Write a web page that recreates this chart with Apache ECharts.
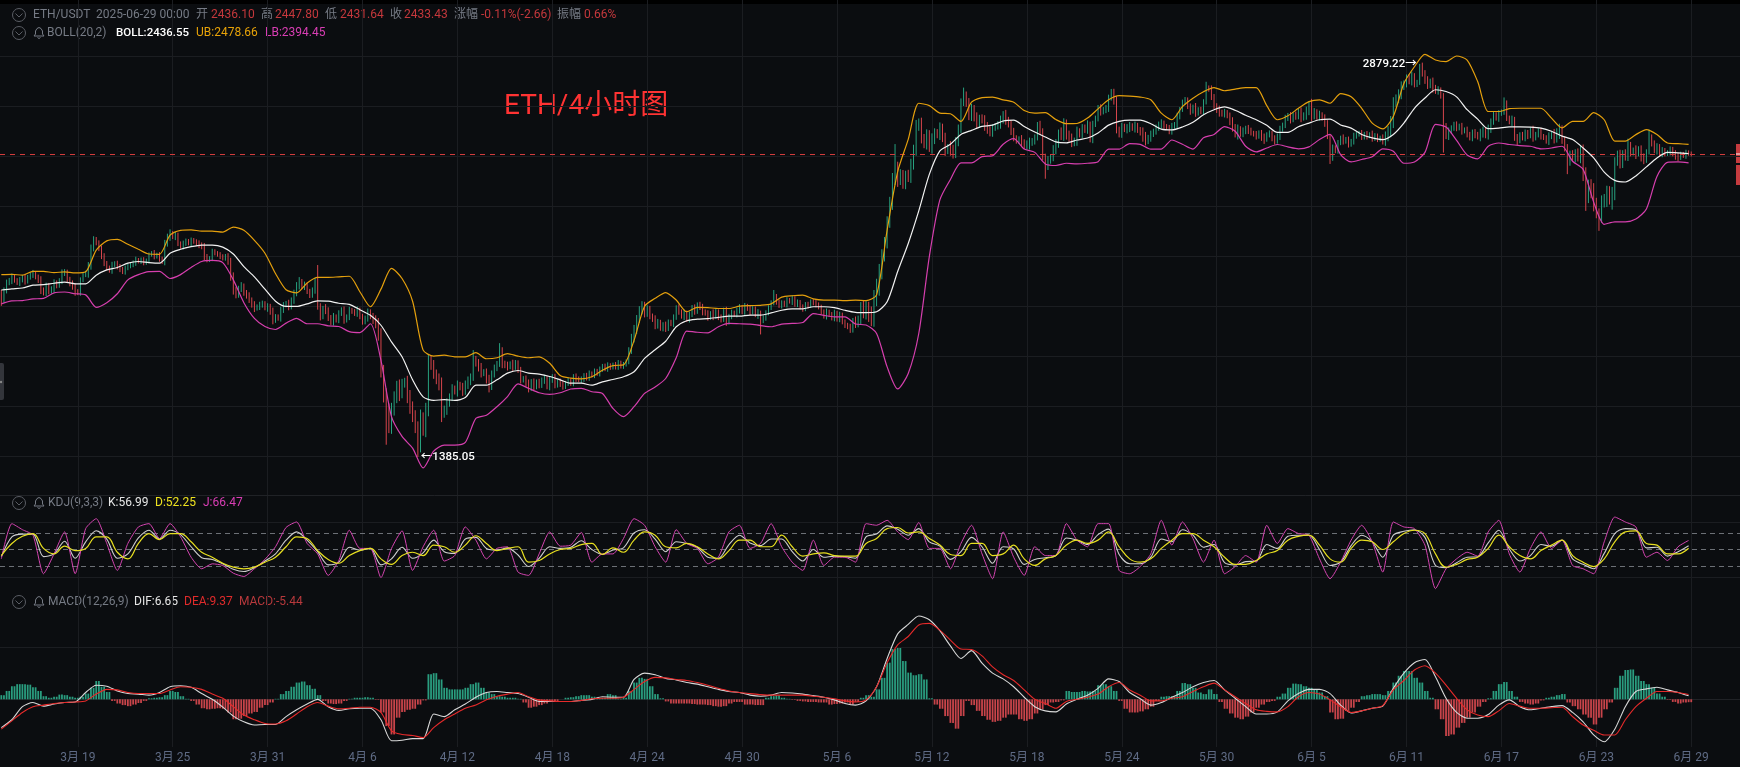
<!DOCTYPE html>
<html><head><meta charset="utf-8"><style>html,body{margin:0;padding:0;background:#0b0d10}#c{width:1740px;height:767px}</style>
<script src="https://cdn.jsdelivr.net/npm/echarts@6/dist/echarts.min.js"></script></head><body><div id="c"></div>
<script>
const tickDates=['3月 19','3月 25','3月 31','4月 6','4月 12','4月 18','4月 24','4月 30','5月 6','5月 12','5月 18','5月 24','5月 30','6月 5','6月 11','6月 17','6月 23','6月 29'];
const closes=[1855,1890,1915,1925,1935,1925,1915,1925,1935,1922,
1935,1945,1950,1935,1925,1890,1880,1905,1885,1895,
1915,1905,1925,1950,1955,1925,1915,1900,1885,1880,
1925,1945,1950,1975,2045,2075,2065,2040,2015,1985,
1970,1960,1980,1987,1973,1965,1955,1968,1977,1980,
1989,1999,1993,1999,1989,1996,2018,2025,2012,2018,
2002,1993,2061,2087,2100,2087,2093,2061,2049,2061,
2071,2061,2074,2068,2061,2055,2049,2012,1999,2005,
2030,2025,2018,2012,2005,2012,1993,1937,1890,1872,
1896,1905,1878,1872,1855,1838,1827,1832,1838,1844,
1827,1832,1815,1787,1798,1793,1821,1838,1844,1832,
1855,1878,1908,1920,1902,1908,1884,1872,1890,1920,
1832,1798,1827,1821,1793,1782,1798,1787,1810,1821,
1787,1798,1821,1815,1810,1821,1798,1782,1793,1815,
1798,1787,1776,1738,1628,1549,1512,1466,1512,1549,
1578,1559,1588,1593,1549,1521,1493,1466,1421,1489,
1457,1512,1658,1643,1618,1598,1588,1502,1512,1531,
1549,1574,1564,1583,1578,1564,1588,1593,1608,1663,
1648,1638,1618,1623,1598,1578,1618,1633,1648,1685,
1648,1643,1638,1648,1638,1650,1628,1598,1603,1588,
1574,1593,1578,1593,1583,1598,1603,1578,1598,1608,
1583,1593,1588,1578,1590,1596,1588,1608,1603,1598,
1600,1612,1605,1618,1612,1625,1618,1630,1640,1633,
1642,1636,1645,1638,1650,1640,1645,1655,1690,1730,
1755,1790,1822,1835,1810,1825,1800,1790,1770,1780,
1760,1770,1760,1780,1775,1795,1830,1815,1800,1810,
1790,1805,1830,1815,1840,1830,1815,1810,1795,1810,
1800,1815,1795,1790,1820,1780,1800,1812,1805,1820,
1830,1815,1835,1825,1815,1825,1805,1810,1785,1795,
1810,1830,1845,1865,1850,1835,1845,1840,1855,1850,
1860,1840,1848,1830,1825,1840,1835,1850,1845,1840,
1830,1815,1800,1815,1805,1795,1810,1790,1805,1780,
1770,1765,1755,1785,1775,1790,1830,1815,1825,1805,
1795,1860,1904,1950,2017,2062,2148,2222,2322,2370,
2320,2345,2300,2340,2335,2385,2457,2564,2579,2509,
2479,2525,2464,2502,2532,2525,2556,2509,2450,2464,
2457,2434,2494,2548,2684,2717,2676,2619,2643,2611,
2572,2603,2595,2564,2548,2532,2556,2564,2572,2595,
2619,2595,2572,2540,2509,2494,2502,2486,2472,2479,
2486,2494,2509,2572,2540,2420,2383,2405,2420,2457,
2479,2532,2525,2572,2525,2509,2486,2494,2540,2525,
2556,2548,2572,2502,2572,2603,2651,2635,2643,2651,
2701,2725,2693,2548,2525,2564,2548,2556,2564,2556,
2564,2548,2532,2517,2494,2509,2525,2540,2556,2572,
2579,2564,2556,2540,2564,2572,2611,2643,2684,2693,
2659,2635,2659,2627,2644,2636,2680,2752,2748,2710,
2660,2644,2630,2624,2630,2614,2585,2560,2525,2548,
2530,2540,2552,2545,2532,2525,2517,2532,2509,2501,
2525,2530,2505,2494,2517,2548,2571,2603,2614,2595,
2619,2611,2635,2603,2619,2635,2668,2619,2630,2611,
2619,2603,2579,2517,2420,2462,2450,2485,2509,2494,
2501,2478,2494,2517,2525,2532,2513,2525,2517,2525,
2509,2517,2501,2509,2494,2517,2540,2585,2676,2702,
2720,2763,2772,2807,2790,2814,2772,2781,2868,2830,
2790,2772,2781,2755,2737,2744,2711,2565,2517,2540,
2556,2571,2556,2564,2540,2548,2525,2509,2532,2525,
2513,2532,2540,2525,2548,2585,2619,2603,2624,2635,
2676,2603,2585,2595,2509,2494,2525,2509,2532,2517,
2548,2509,2525,2540,2517,2509,2494,2517,2525,2509,
2532,2548,2501,2462,2396,2436,2417,2436,2425,2442,
2351,2250,2293,2272,2222,2182,2168,2228,2236,2265,
2244,2258,2396,2436,2388,2436,2425,2472,2442,2450,
2436,2458,2417,2409,2442,2509,2485,2450,2466,2436,
2450,2436,2442,2455,2436,2425,2417,2436,2425,2442,2436.1,2433.43];
const wicks=[15,9,12,8,14,9,7,11,8,13,9,8,12,7,10,14,9,11,10,8,13,9,7,14,10,8,12,9,15,8,10,7,9,16,12,14,
11,8,13,9,10,8,12,7,9,11,8,10,7,9,8,12,7,9,10,8,9,7,11,8,10,9,14,12,16,9,13,10,8,11,9,7,10,8,9,12,
10,14,9,8,11,9,7,10,8,9,12,14,16,11,9,13,8,12,10,9,13,8,11,9,7,12,10,14,9,8,11,10,8,12,9,13,10,16,
9,12,8,10,9,13,10,12,8,14,9,11,13,8,10,9,12,8,11,7,9,12,8,10,9,11,8,13,16,18,22,16,25,18,20,16,18,
22,14,12,18,20,15,18,14,24,16,20,18,14,16,12,20,18,12,14,10,12,8,14,10,12,9,16,10,12,9,14,12,8,10,
16,9,12,8,10,14,9,11,7,12,9,8,10,7,9,12,8,10,7,9,8,11,7,10,8,9,7,10,8,6,9,7,8,10,6,9,
7,8,9,6,8,7,9,7,8,10,7,6,8,9,7,8,6,9,12,16,14,12,16,14,12,10,9,13,11,8,10,12,9,8,11,7,
10,8,13,9,11,8,10,7,9,12,8,10,7,13,9,8,11,9,12,8,10,7,9,11,8,10,7,12,9,8,14,9,8,10,7,9,
8,11,7,9,8,10,7,12,8,9,7,10,8,9,7,8,10,7,9,8,11,7,9,12,8,10,7,9,8,10,9,14,12,18,22,26,
24,28,30,26,34,22,24,20,26,28,24,30,22,18,20,24,28,20,30,22,26,18,24,20,28,22,18,26,20,24,16,30,
20,18,24,16,22,18,26,30,24,20,16,18,22,20,16,18,14,16,20,18,24,14,18,16,12,14,20,16,18,24,14,16,
12,18,14,16,20,14,18,24,16,26,30,24,18,20,16,22,14,18,16,20,14,18,12,16,20,14,16,18,12,24,18,14,
16,12,18,20,14,22,16,12,26,20,14,18,12,16,14,18,12,10,14,16,12,18,14,10,14,12,16,10,18,12,14,16,
10,14,18,12,16,20,14,18,12,16,22,14,24,16,18,14,18,12,10,16,12,14,20,10,14,12,16,12,18,10,16,14,
18,12,16,14,20,12,24,18,30,22,16,20,12,18,14,10,16,12,14,10,16,12,14,10,16,12,10,14,12,16,10,18,
14,12,10,16,22,24,28,30,18,26,24,20,16,18,24,16,14,12,18,16,24,20,26,14,18,12,16,14,18,12,14,16,
12,16,10,14,12,16,18,12,20,22,18,24,16,14,12,18,10,16,14,12,20,14,18,10,12,16,14,10,18,12,14,16,
10,12,18,14,26,22,28,20,16,18,14,16,20,24,32,36,24,28,30,34,22,18,26,24,30,28,32,24,14,18,16,20,
22,18,14,24,12,16,20,14,10,16,12,18,14,16,12,10,14,12,16,14,9,8,12,9,10,8];
const highOverride={120:1980,179:1690,189:1712,293:1890,339:2480,365:2755,421:2748,457:2785,538:2879.22,570:2705,617:2505,625:2548};
const lowOverride={0:1835,146:1417,158:1385.05,167:1478,288:1740,396:2325,504:2390,547:2441,594:2345,601:2190,606:2110,611:2195};
const bollMid=[1890,1894,1897,1907,1909,1914,1918,1912,1912,1943,1962,1971,1987,1993,1989,1987,2024,2039,2049,2055,2055,2047,2021,1974,1937,1893,1851,1833,1833,1842,1852,1851,1844,1840,1822,1803,1770,1716,1669,1599,1549,1539,1541,1539,1547,1583,1583,1599,1619,1627,1619,1616,1609,1599,1589,1589,
1583,1593,1600,1608,1623,1664,1691,1718,1765,1785,1790,1792,1796,1800,1800,1804,1804,1811,1820,1825,1825,1832,1832,1829,1820,1813,1812,1815,1849,1956,2061,2190,2344,2449,2479,2525,2544,2563,2569,2589,2593,2563,2536,2513,2490,2486,2499,2508,2532,2569,2587,2593,2593,2576,2550,2546,2560,2583,
2619,2644,2658,2641,2617,2595,2568,2535,2535,2561,2579,2595,2598,2570,2555,2525,2509,2501,2525,2579,2651,2702,2744,2735,2708,2644,2598,2552,2555,2561,2561,2560,2555,2540,2517,2501,2462,2417,2354,2318,2311,2337,2377,2417,2442,2440,2436.55];
const bollUp=[1945,1946,1943,1957,1957,1952,1955,1951,1955,2036,2071,2077,2058,2039,2021,2020,2093,2112,2114,2109,2109,2105,2125,2112,2073,2024,1949,1891,1880,1915,1935,1935,1937,1939,1884,1832,1893,1968,1931,1851,1690,1671,1674,1669,1669,1682,1663,1666,1679,1671,1666,1669,1649,1612,1604,1602,
1608,1628,1642,1644,1721,1834,1861,1881,1855,1815,1830,1829,1826,1826,1834,1836,1837,1842,1865,1870,1872,1859,1855,1855,1853,1855,1853,1873,2113,2356,2502,2676,2664,2627,2624,2587,2681,2704,2707,2693,2681,2640,2627,2630,2596,2576,2577,2603,2648,2693,2714,2712,2707,2693,2627,2595,2659,2701,
2734,2755,2739,2747,2755,2755,2664,2595,2614,2651,2684,2693,2676,2724,2708,2651,2579,2551,2611,2776,2864,2931,2900,2891,2922,2900,2786,2635,2635,2649,2651,2651,2651,2603,2556,2587,2587,2630,2595,2494,2494,2524,2548,2525,2485,2482,2478.66];
const bollLow=[1842,1852,1853,1859,1861,1880,1883,1877,1873,1830,1846,1877,1926,1945,1956,1957,1931,1945,1971,1993,1997,1989,1926,1846,1793,1766,1756,1777,1793,1775,1775,1768,1766,1749,1746,1775,1658,1493,1439,1408,1357,1400,1416,1416,1423,1488,1497,1521,1550,1587,1574,1561,1556,1561,1572,1574,
1564,1559,1516,1493,1521,1559,1578,1603,1666,1751,1747,1745,1765,1776,1775,1774,1769,1765,1774,1776,1779,1809,1803,1798,1798,1774,1771,1743,1638,1572,1618,1743,2011,2235,2322,2395,2395,2423,2427,2479,2505,2457,2442,2390,2383,2393,2390,2393,2400,2457,2457,2482,2479,2457,2457,2499,2479,2457,
2509,2525,2562,2540,2470,2444,2462,2478,2467,2458,2467,2501,2525,2432,2399,2410,2422,2458,2447,2393,2399,2442,2573,2560,2497,2430,2413,2470,2485,2478,2473,2470,2458,2462,2470,2402,2366,2226,2136,2146,2146,2157,2198,2335,2397,2399,2394.45];
const kValues=[37,73,78,78,37,42,65,34,64,84,69,34,42,71,85,69,85,77,55,35,32,24,14,10,17,29,42,67,82,67,46,22,27,54,49,52,22,33,54,34,44,67,46,43,69,72,52,49,53,40,19,34,55,52,54,66,50,41,49,53,80,86,69,46,64,61,54,36,34,59,76,62,57,69,69,46,29,50,36,38,37,34,73,
78,93,87,76,88,64,56,32,46,72,55,25,55,51,23,32,35,39,71,67,59,77,87,41,24,24,36,69,64,86,76,54,59,26,22,28,29,59,52,74,76,76,50,21,27,57,76,64,36,76,83,86,72,21,17,26,36,37,62,85,51,29,39,59,56,67,33,23,15,43,79,88,86,53,54,38,46,56.99];
const dValues=[39,61,74,79,52,42,56,48,52,73,73,45,33,61,79,68,79,79,64,45,36,25,18,15,18,27,36,55,73,70,48,32,25,39,48,52,33,23,39,45,39,58,55,45,58,75,61,48,52,55,27,30,42,50,52,59,61,41,53,45,67,82,76,55,53,61,55,42,33,48,67,67,55,55,76,55,38,42,44,39,38,38,61,
70,88,90,80,82,70,58,41,39,61,61,39,42,58,33,21,33,39,58,67,61,67,82,55,33,27,33,52,67,79,79,67,55,36,23,23,30,42,48,67,74,76,58,33,27,52,67,64,50,64,79,85,79,42,18,23,32,36,52,76,55,39,33,48,58,67,39,27,19,33,64,82,84,61,58,42,42,52.25];
const jValues=[33,97,86,76,6,42,82,6,88,106,61,12,61,91,97,70,97,73,36,15,24,21,7,1,15,32,55,90,100,61,42,3,30,85,52,52,-1,52,84,12,55,85,29,39,91,67,33,52,55,9,3,42,82,56,58,81,27,42,42,70,106,94,55,27,86,61,52,24,36,82,94,52,61,97,55,27,12,67,21,36,36,27,97,
94,103,82,68,99,52,52,15,61,94,42,-3,82,36,3,55,39,39,97,67,55,97,97,12,6,19,42,103,58,100,70,27,67,6,19,39,27,94,61,88,79,76,33,-3,27,67,94,64,9,100,91,88,58,-21,15,33,45,38,82,103,42,9,52,82,52,67,21,15,6,64,109,100,91,36,45,30,55,66.47];
const difValues=[-54,-39,-14,-6,-13,-9,-6,-5,13,27,25,16,11,10,8,13,24,26,23,11,0,-15,-32,-43,-49,-48,-48,-33,-20,-9,0,-14,-21,-18,-17,-17,-39,-79,-78,-75,-75,-28,-33,-20,-9,4,13,15,13,11,4,-4,-4,-4,-4,-2,0,5,4,4,38,50,47,40,37,32,29,24,19,15,13,8,6,8,13,12,10,7,4,-1,-8,-11,-3,
24,78,125,143,159,152,131,102,78,93,69,50,39,24,4,-14,-22,-24,-9,0,8,21,39,34,13,1,-11,-6,4,13,24,32,36,18,2,-14,-28,-28,-24,-3,11,19,19,11,-11,-26,-22,-17,
-13,21,50,70,76,43,2,-25,-36,-36,-29,-11,-1,-14,-20,-17,-14,-12,-25,-43,-68,-81,-57,-14,15,20,23,18,13,6.65];
const deaValues=[-57,-41,-25,-14,-11,-8,-6,-5,-3,10,19,18,13,11,11,11,18,24,23,19,10,2,-14,-30,-39,-46,-47,-41,-28,-14,-6,-13,-18,-17,-15,-15,-25,-60,-67,-69,-73,-54,-39,-28,-17,-11,-1,6,10,13,5,-1,-3,-4,-4,-2,1,2,2,4,19,34,42,41,38,36,32,27,21,16,13,11,9,8,8,8,8,6,4,1,-3,-5,-1,
24,70,104,120,142,145,132,113,96,95,83,62,47,36,18,0,-8,-17,-4,0,4,10,24,32,18,8,-3,-3,2,5,15,24,31,18,5,-8,-20,-23,-24,-14,5,13,10,-1,-14,-25,-22,-17,-12,18,36,56,64,50,27,2,-20,-30,-33,-22,-8,-13,-17,-17,-16,-15,-33,-49,-59,-68,-68,-39,-14,2,15,15,13,9.37];
const macdBars=[8,16,25,29,29,28,23,16,6,3,5,9,8,5,3,5,11,22,35,24,14,-3,-8,-11,-13,-10,-7,-3,2,3,4,8,16,14,6,1,-3,-10,-17,-19,-18,-17,-18,-25,-38,-37,-32,-27,-24,-16,-11,-6,1,10,16,24,32,34,27,20,8,-3,-8,-9,-8,-3,1,3,3,4,3,-1,-25,-51,-67,-35,-24,-20,-18,-10,-2,48,50,38,22,19,19,19,22,29,32,22,13,10,6,5,3,3,1,-6,-16,-14,-11,-8,-5,-3,0,3,4,6,8,8,5,1,3,10,8,1,3,16,32,41,39,25,10,2,-4,-8,-8,-8,-8,-9,-10,-10,-11,-13,-14,-13,-8,-5,-5,-10,-10,-11,-11,3,6,8,3,1,-1,-3,-4,-5,-5,-6,-6,-10,-9,-8,-6,-10,-5,3,8,
5,19,41,70,96,99,73,51,46,48,38,2,-10,-18,-32,-45,-56,-32,-3,-11,-22,-32,-39,-43,-41,-35,-29,-29,-38,-41,-38,-27,-19,-11,-6,-5,-2,16,14,14,16,15,16,27,29,25,16,-3,-18,-25,-25,-23,-19,-14,-3,5,6,6,16,31,29,22,13,10,19,10,-5,-18,-27,-35,-38,-33,-25,-16,-10,-5,-3,5,11,22,30,29,25,22,19,13,6,-25,-38,-37,-22,-16,-5,6,8,10,10,8,16,32,45,54,54,41,32,16,3,-19,-38,-70,-67,-54,-45,-35,-25,-14,-5,2,16,29,33,16,5,-5,-8,-10,-8,-2,3,5,8,10,-6,-13,-19,-29,-35,-48,-35,-19,-6,22,45,56,57,45,35,29,22,11,5,-1,-5,-8,-6,-5.44];
const lastPrice=2433.43, kdjLevels=[80,50,20], kdjGrid=[100,0], macdGrid=[100], gridStepMain=50;
const headerRows=[
['ETH/USDT',33,15,'#767b85'],['2025-06-29 00:00',96,15,'#767b85'],['开',196,15,'#767b85'],['2436.10',211,15,'#c5383c'],['高',261,15,'#767b85'],['2447.80',275,15,'#c5383c'],['低',325,15,'#767b85'],['2431.64',340,15,'#c5383c'],['收',390,15,'#767b85'],['2433.43',404,15,'#c5383c'],['涨幅',454,15,'#767b85'],['-0.11%(-2.66)',481,15,'#c5383c'],['振幅',557,15,'#767b85'],['0.66%',584,15,'#c5383c'],
['BOLL(20,2)',47,33,'#767b85'],['BOLL:2436.55',116,33,'#ffffff'],['UB:2478.66',196,33,'#e8a308'],['LB:2394.45',265,33,'#d93eb4'],
['KDJ(9,3,3)',48,503,'#767b85'],['K:56.99',108,503,'#e6e6e6'],['D:52.25',155,503,'#eee21f'],['J:66.47',203,503,'#d93eb4'],
['MACD(12,26,9)',48,602,'#767b85'],['DIF:6.65',134,602,'#e6e6e6'],['DEA:9.37',184,602,'#e02b2b'],['MACD:-5.44',239,602,'#b8393c']];
const FONT="Roboto,'Noto Sans CJK SC',sans-serif";
const N=660, first=29, step=36;
const cats=Array.from({length:N},(_,i)=>{const k=(i-first)/step;return Number.isInteger(k)&&k>=0&&k<tickDates.length?tickDates[k]:''});
const isTick=i=>cats[i]!=='';
const GL='#1b1d21', BL='#202226', BG='#0b0d10';
const candles=closes.map((c,i)=>{const o=i?closes[i-1]:1875,w=wicks[i]??8;
 return [o,c,lowOverride[i]??Math.min(o,c)-w,highOverride[i]??Math.max(o,c)+w]});
const every=(a,s)=>a.map((v,i)=>[i*s,v]);
const xBase=(g,extra)=>Object.assign({type:'category',gridIndex:g,data:cats,boundaryGap:true,axisTick:{show:false},
 axisLabel:{show:false},axisLine:{show:true,lineStyle:{color:BL,width:1}},
 splitLine:{show:true,interval:(i)=>isTick(i),alignWithLabel:true,lineStyle:{color:GL,width:1}}},extra||{});
const yBase=(g,min,max,extra)=>Object.assign({type:'value',gridIndex:g,min,max,axisLine:{show:false},axisTick:{show:false},axisLabel:{show:false},splitLine:{show:false}},extra||{});
const line=(name,x,y,data,color,w,smooth)=>({name,type:'line',xAxisIndex:x,yAxisIndex:y,data,symbol:'none',silent:true,smooth:smooth,lineStyle:{color,width:w},z:5});
const levelLines=(solid,dashed)=>({silent:true,symbol:'none',animation:false,label:{show:false},
 data:[...solid.map(v=>({yAxis:v,lineStyle:{color:GL,type:'solid',width:1}})),...dashed.map(v=>({yAxis:v,lineStyle:{color:'#6c7076',type:[5,4],width:1}}))]});
const markerLabel=(text,pos)=>({show:true,position:pos,distance:3,formatter:text,color:'#fff',fontFamily:FONT,fontSize:11.5,fontWeight:500});
const icon=(x,y)=>[{type:'circle',shape:{cx:x,cy:y,r:6.5},style:{fill:'none',stroke:'#5a5d64',lineWidth:1},silent:true},
 {type:'polyline',shape:{points:[[x-3.5,y-1.5],[x,y+2],[x+3.5,y-1.5]]},style:{fill:'none',stroke:'#5a5d64',lineWidth:1},silent:true}];
const bell=(x,y)=>[{type:'polyline',shape:{points:[[x-5,y+3],[x-3.5,y+1],[x-3.5,y-2],[x-2,y-4.5],[x,y-5.5],[x+2,y-4.5],[x+3.5,y-2],[x+3.5,y+1],[x+5,y+3],[x-5,y+3]]},style:{fill:'none',stroke:'#767b85',lineWidth:1},silent:true},
 {type:'polyline',shape:{points:[[x-1.5,y+4.5],[x,y+5.5],[x+1.5,y+4.5]]},style:{fill:'none',stroke:'#767b85',lineWidth:1},silent:true}];
const graphics=[
 {type:'rect',shape:{x:0,y:0,width:1740,height:4},style:{fill:'#000'},silent:true},
 ...icon(19,15),...icon(19,33),...icon(19,503),...icon(19,602),...bell(39,33),...bell(39,503),...bell(39,602),
 ...headerRows.map(([t,x,y,c])=>({type:'text',silent:true,style:{text:t,x,y,fill:c,font:c==='#ffffff'?`500 11.5px ${FONT}`:`400 12px ${FONT}`,textVerticalAlign:'middle'}})),
 {type:'text',silent:true,style:{text:'ETH/4小时图',x:504,y:107,fill:'#ff3333',font:`400 28px ${FONT}`,textVerticalAlign:'middle'}},
 {type:'rect',shape:{x:1736,y:144,width:4,height:19},style:{fill:'#c53b3f'},silent:true},
 {type:'rect',shape:{x:1736,y:165,width:4,height:20},style:{fill:'#c53b3f'},silent:true},
 {type:'rect',shape:{x:1736,y:153.5,width:4,height:1},style:{fill:'#fff'},silent:true},
 {type:'rect',shape:{x:0,y:363,width:4,height:37,r:[0,2,2,0]},style:{fill:'#33353b'},silent:true},
 {type:'circle',shape:{cx:1,cy:382,r:1.2},style:{fill:'#888'},silent:true}
];
const chart=echarts.init(document.getElementById('c'),null,{renderer:'canvas'});
chart.setOption({
 backgroundColor:BG,animation:false,
 grid:[{left:0,right:0,top:0,height:495},{left:0,right:0,top:495,height:98},{left:0,right:0,top:593,height:154},{left:0,right:0,top:56,height:400}],
 xAxis:[xBase(0),xBase(1),xBase(2,{axisLabel:{show:true,interval:(i)=>isTick(i),color:'#5f6b85',fontFamily:FONT,fontSize:12,margin:5,hideOverlap:false}}),
  xBase(3,{show:false,splitLine:{show:false}})],
 yAxis:[yBase(0,1290.4,3243,{type:'log',logBase:10}),yBase(1,-29,149),yBase(2,-91,203),
  yBase(3,0,400,{interval:gridStepMain,splitLine:{show:true,lineStyle:{color:GL,width:1}}})],
 graphic:{elements:graphics},
 series:[
  {name:'K线',type:'candlestick',xAxisIndex:0,yAxisIndex:0,data:candles,barWidth:2.2,silent:true,z:3,
   itemStyle:{color:'#27a17f',color0:'#d6454c',borderColor:'#27a17f',borderColor0:'#d6454c',borderWidth:1},
   markPoint:{silent:true,symbol:'circle',symbolSize:0,animation:false,data:[
     {coord:[538,2879.22],label:markerLabel('2879.22→','left')},
     {coord:[158,1385.05],label:markerLabel('←1385.05','right')}]},
   markLine:{silent:true,symbol:'none',animation:false,label:{show:false},data:[{yAxis:lastPrice,lineStyle:{color:'#d23c3c',type:[5,5],width:1}}]}},
  line('UB',0,0,every(bollUp,4),'#e5a00d',1.2,0.25),
  line('LB',0,0,every(bollLow,4),'#d63fae',1.2,0.25),
  line('BOLL',0,0,every(bollMid,4),'#f2f2f2',1.2,0.25),
  {...line('K',1,1,every(kValues,4),'#cfcfcf',1.1,0.3),markLine:levelLines(kdjGrid,kdjLevels)},
  line('J',1,1,every(jValues,4),'#d444b0',1,0.2),
  line('D',1,1,every(dValues,4),'#e8e020',1.2,0.4),
  {name:'MACD',type:'bar',xAxisIndex:2,yAxisIndex:2,barWidth:1.8,silent:true,z:3,
   data:macdBars.flatMap((v,i)=>[i*2,i*2+1].map(x=>({value:[x,v],itemStyle:{color:v>=0?'#2a9d7f':'#c8444a'}}))),
   markLine:levelLines(macdGrid,[])},
  line('DIF',2,2,every(difValues,4),'#d8d8d8',1.1,0.25),
  line('DEA',2,2,every(deaValues,4),'#e62a2a',1.1,0.25)
 ]
});
</script></body></html>
